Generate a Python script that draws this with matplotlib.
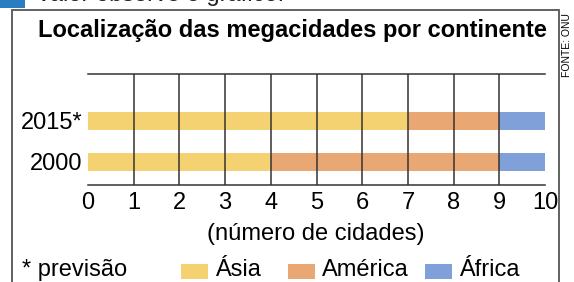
import matplotlib.pyplot as plt
from matplotlib.patches import Rectangle

plt.rcParams.update({
    "font.family": ["Liberation Sans", "DejaVu Sans"],
    "font.size": 17,
})

# data
years = ["2000", "2015*"]
asia = [4, 7]
america = [5, 2]
africa = [1, 1]
continents = ["Ásia", "América", "África"]
colors = ["#F4D272", "#E9A873", "#7FA0D8"]
xticks = list(range(0, 11))

FS = 17
W, H = 574, 282
fig = plt.figure(figsize=(W / 100, H / 100), dpi=100)

# frame box around the chart
fig.patches.append(Rectangle((12 / W, -0.1), (559 - 12) / W, 1 - 10 / H + 0.1,
                             transform=fig.transFigure, fill=False,
                             edgecolor="#555555", lw=1.3))

# cut-off header of the page
fig.patches.append(Rectangle((0, 1 - 8 / H), 25 / W, 8 / H + 0.01,
                             transform=fig.transFigure, color="#2A7DC1", lw=0))
fig.text(38 / W, 1 + 5 / H, "valor observe o gráfico.", fontsize=FS,
         va="center", ha="left", color="#222222")

ax = fig.add_axes([88 / W, (H - 185) / H, (545 - 88) / W, (185 - 74) / H])

ypos = [0, 1]
left = [0, 0]
for vals, c in zip([asia, america, africa], colors):
    ax.barh(ypos, vals, left=left, height=0.44, color=c, zorder=1)
    left = [l + v for l, v in zip(left, vals)]

for x in xticks[1:-1]:
    ax.axvline(x, color="#333333", lw=1.1, zorder=3)

ax.set_xlim(0, 10)
ax.set_ylim(-0.561, 2.146)
ax.set_xticks(xticks)
ax.set_yticks(ypos)
ax.set_yticklabels(years)
ax.tick_params(axis="x", length=0, pad=5, labelsize=FS)
ax.tick_params(axis="y", length=0, pad=4, labelsize=FS)
for s in ["left", "right"]:
    ax.spines[s].set_visible(False)
for s in ["top", "bottom"]:
    ax.spines[s].set_color("#333333")
    ax.spines[s].set_linewidth(1.1)

fig.text(316 / W, 1 - 234 / H, "(número de cidades)", ha="center", va="center",
         fontsize=FS)
fig.text(292 / W, 1 - 31 / H, "Localização das megacidades por continente",
         ha="center", va="center", fontsize=FS, fontweight="bold")
fig.text(567 / W, 1 - 45 / H, "FONTE: ONU", rotation=90, ha="center",
         va="center", fontsize=7.5)

# legend
fig.text(22 / W, 1 - 270 / H, "* previsão", ha="left", va="center", fontsize=FS)
legend_x = [181, 288, 425]
for x0, c, name in zip(legend_x, colors, continents):
    fig.patches.append(Rectangle((x0 / W, 1 - 279 / H), 27 / W, 15 / H,
                                 transform=fig.transFigure, color=c, lw=0))
    fig.text((x0 + 34) / W, 1 - 270 / H, name, ha="left", va="center",
             fontsize=FS)

fig.savefig("out.png", dpi=100)
